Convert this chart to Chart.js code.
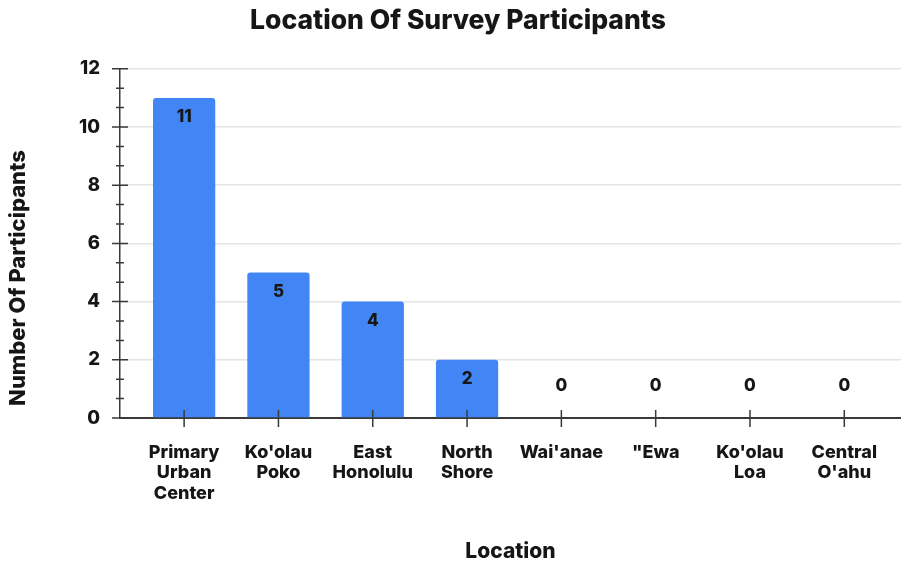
<!DOCTYPE html>
<html>
<head>
<meta charset="utf-8">
<title>Location Of Survey Participants</title>
<script src="https://cdn.jsdelivr.net/npm/chart.js@4.4.1/dist/chart.umd.min.js"></script>
<style>
  html, body { margin: 0; padding: 0; background: #fff; }
  #chart-wrap { width: 901px; height: 564px; }
</style>
</head>
<body>
<div id="chart-wrap"><canvas id="participants-chart" width="901" height="564"></canvas></div>
<script>
// survey counts per location
const locations = [
  ["Primary", "Urban", "Center"],
  ["Ko'olau", "Poko"],
  ["East", "Honolulu"],
  ["North", "Shore"],
  ["Wai'anae"],
  ["\"Ewa"],
  ["Ko'olau", "Loa"],
  ["Central", "O'ahu"]
];
const participants = [11, 5, 4, 2, 0, 0, 0, 0];
const yTicks = [0, 2, 4, 6, 8, 10, 12];

const fontFamily = "Inter, Roboto, sans-serif";
const fontWeight = 800;
const barColor = "#4285F4";
const textColor = "#161616";
const axisColor = "#3a3a3a";
const gridColor = "#e4e4e4";

// small tick marks that cross both axes (minor ticks at thirds on y)
const axisTicks = {
  id: "axisTicks",
  afterDraw(chart) {
    const ctx = chart.ctx;
    const xScale = chart.scales.x;
    const yScale = chart.scales.y;
    const left = chart.chartArea.left;
    const bottom = chart.chartArea.bottom;
    ctx.save();
    ctx.strokeStyle = axisColor;
    ctx.lineWidth = 1.5;
    ctx.beginPath();
    yScale.ticks.forEach(function(tick, i) {
      const py = yScale.getPixelForValue(tick.value);
      ctx.moveTo(left - 8, py);
      ctx.lineTo(left + 8, py);
      const next = yScale.ticks[i + 1];
      if (next) {
        for (let k = 1; k < 3; k++) {
          const my = yScale.getPixelForValue(tick.value + (next.value - tick.value) * k / 3);
          ctx.moveTo(left - 4, my);
          ctx.lineTo(left + 4, my);
        }
      }
    });
    xScale.ticks.forEach(function(tick) {
      const px = xScale.getPixelForValue(tick.value);
      ctx.moveTo(px, bottom - 8);
      ctx.lineTo(px, bottom + 9);
    });
    ctx.stroke();
    ctx.restore();
  }
};

// value printed inside the top of each bar, or above the axis when empty
const valueLabels = {
  id: "valueLabels",
  afterDatasetsDraw(chart) {
    const ctx = chart.ctx;
    const meta = chart.getDatasetMeta(0);
    ctx.save();
    ctx.font = fontWeight + " 17px " + fontFamily;
    ctx.fillStyle = textColor;
    ctx.textAlign = "center";
    ctx.textBaseline = "middle";
    meta.data.forEach(function(bar, i) {
      const value = participants[i];
      const y = value > 0 ? bar.y + 19 : bar.y - 32;
      ctx.fillText(String(value), bar.x, y);
    });
    ctx.restore();
  }
};

// y axis title, centred on the canvas height
const yTitle = {
  id: "yTitle",
  afterDraw(chart) {
    const ctx = chart.ctx;
    ctx.save();
    ctx.translate(18, chart.height / 2 - 4);
    ctx.rotate(-Math.PI / 2);
    ctx.font = fontWeight + " 22px " + fontFamily;
    ctx.fillStyle = textColor;
    ctx.textAlign = "center";
    ctx.textBaseline = "middle";
    ctx.fillText("Number Of Participants", 0, 0);
    ctx.restore();
  }
};

const context = document.getElementById("participants-chart").getContext("2d");
new Chart(context, {
  type: "bar",
  data: {
    datasets: [
      {
        data: participants.map(function(value, i) { return { x: i, y: value }; }),
        backgroundColor: barColor,
        borderRadius: 3,
        borderSkipped: "start",
        barPercentage: 0.66,
        categoryPercentage: 1
      }
    ]
  },
  options: {
    responsive: false,
    animation: false,
    devicePixelRatio: 1,
    layout: { padding: { left: 15 } },
    plugins: {
      legend: { display: false },
      tooltip: { enabled: false },
      title: {
        display: true,
        text: "Location Of Survey Participants",
        color: textColor,
        font: { family: fontFamily, size: 26.5, weight: fontWeight },
        padding: { top: 5, bottom: 32 }
      }
    },
    scales: {
      x: {
        type: "linear",
        offset: false,
        min: -0.68,
        max: 7.6,
        afterBuildTicks: function(scale) {
          scale.ticks = locations.map(function(_, i) { return { value: i }; });
        },
        afterFit: function(scale) { scale.height = 146; },
        grid: { display: false, drawTicks: false, offset: false },
        border: { color: axisColor, width: 2 },
        ticks: {
          autoSkip: false,
          maxRotation: 0,
          padding: 24,
          color: textColor,
          font: { family: fontFamily, size: 18, weight: fontWeight, lineHeight: 1.14 },
          callback: function(value) { return locations[value]; }
        },
        title: {
          display: true,
          text: "Location",
          color: textColor,
          font: { family: fontFamily, size: 21, weight: fontWeight },
          padding: { top: 0, bottom: 0 }
        }
      },
      y: {
        min: 0,
        max: 12,
        afterBuildTicks: function(scale) {
          scale.ticks = yTicks.map(function(v) { return { value: v }; });
        },
        afterFit: function(scale) { scale.width = 105; },
        grid: { color: gridColor, lineWidth: 1.5, drawTicks: false },
        border: { color: axisColor, width: 1.5 },
        ticks: {
          padding: 20,
          color: textColor,
          font: { family: fontFamily, size: 18.5, weight: fontWeight }
        }
      }
    }
  },
  plugins: [axisTicks, valueLabels, yTitle]
});
</script>
</body>
</html>
